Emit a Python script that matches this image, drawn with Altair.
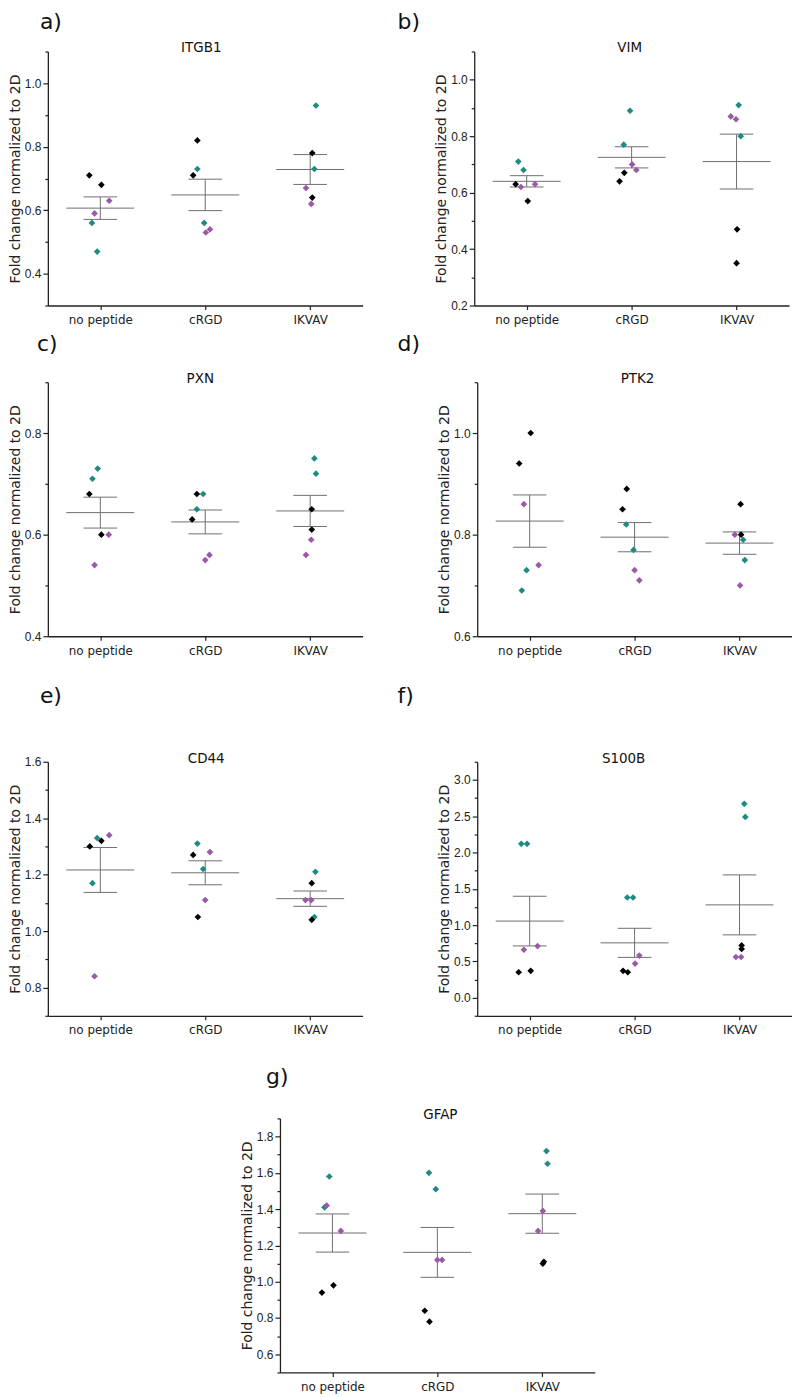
import altair as alt
import pandas as pd

CATEGORIES = ["no peptide", "cRGD", "IKVAV"]
GROUP_DOMAIN = ["t", "k", "p"]
GROUP_RANGE = ["#1e8b82", "#000000", "#9a5aa6"]
Y_TITLE = "Fold change normalized to 2D"

# ---- data: per gene, per category (no peptide, cRGD, IKVAV) ----
# values, replicate group (t = teal, k = black, p = purple), horizontal jitter (fraction of category step)
ITGB1_values = [[0.47, 0.56, 0.71, 0.68, 0.63, 0.59],
                [0.73, 0.56, 0.82, 0.71, 0.53, 0.54],
                [0.93, 0.73, 0.78, 0.64, 0.67, 0.62]]
ITGB1_groups = [["t", "t", "k", "k", "p", "p"],
                ["t", "t", "k", "k", "p", "p"],
                ["t", "t", "k", "k", "p", "p"]]
ITGB1_jitter = [[-0.03, -0.08, -0.105, 0.01, 0.085, -0.055],
                [-0.075, -0.01, -0.075, -0.115, 0.005, 0.045],
                [0.055, 0.04, 0.02, 0.02, -0.04, 0.01]]

VIM_values = [[0.71, 0.68, 0.63, 0.57, 0.62, 0.63],
              [0.89, 0.77, 0.67, 0.64, 0.70, 0.68],
              [0.91, 0.80, 0.47, 0.35, 0.87, 0.86]]
VIM_groups = ITGB1_groups
VIM_jitter = [[-0.08, -0.03, -0.105, 0.01, -0.055, 0.08],
              [-0.015, -0.075, -0.07, -0.115, 0.005, 0.045],
              [0.02, 0.04, 0.005, 0.0, -0.055, -0.005]]

PXN_values = [[0.73, 0.71, 0.68, 0.60, 0.60, 0.54],
              [0.68, 0.65, 0.68, 0.63, 0.56, 0.55],
              [0.75, 0.72, 0.65, 0.61, 0.59, 0.56]]
PXN_groups = ITGB1_groups
PXN_jitter = [[-0.025, -0.075, -0.105, 0.01, 0.08, -0.055],
              [-0.02, -0.08, -0.08, -0.125, 0.04, 0.0],
              [0.04, 0.055, 0.015, 0.015, 0.01, -0.04]]

PTK2_values = [[0.73, 0.69, 1.00, 0.94, 0.86, 0.74],
               [0.82, 0.77, 0.89, 0.85, 0.73, 0.71],
               [0.79, 0.75, 0.86, 0.80, 0.80, 0.70]]
PTK2_groups = ITGB1_groups
PTK2_jitter = [[-0.03, -0.075, 0.01, -0.1, -0.055, 0.085],
               [-0.08, -0.01, -0.075, -0.115, 0.0, 0.045],
               [0.035, 0.05, 0.01, 0.015, -0.045, 0.005]]

CD44_values = [[1.33, 1.17, 1.32, 1.30, 1.34, 0.84],
               [1.31, 1.22, 1.27, 1.05, 1.28, 1.11],
               [1.21, 1.05, 1.17, 1.04, 1.11, 1.11]]
CD44_groups = ITGB1_groups
CD44_jitter = [[-0.03, -0.075, 0.01, -0.1, 0.085, -0.055],
               [-0.075, -0.02, -0.115, -0.07, 0.045, 0.0],
               [0.05, 0.04, 0.015, 0.015, -0.045, 0.01]]

S100B_values = [[2.12, 2.12, 0.37, 0.35, 0.71, 0.66],
                [1.38, 1.38, 0.37, 0.35, 0.58, 0.47],
                [2.67, 2.49, 0.72, 0.67, 0.56, 0.56]]
S100B_groups = ITGB1_groups
S100B_jitter = [[-0.08, -0.025, 0.01, -0.105, 0.075, -0.055],
                [-0.07, -0.015, -0.11, -0.065, 0.045, 0.005],
                [0.045, 0.055, 0.02, 0.02, -0.035, 0.015]]

GFAP_values = [[1.58, 1.41, 0.98, 0.94, 1.42, 1.28],
               [1.60, 1.51, 0.84, 0.78, 1.12, 1.12],
               [1.72, 1.65, 1.11, 1.10, 1.39, 1.28]]
GFAP_groups = ITGB1_groups
GFAP_jitter = [[-0.03, -0.075, 0.01, -0.1, -0.055, 0.08],
               [-0.08, -0.015, -0.12, -0.075, 0.0, 0.045],
               [0.04, 0.05, 0.015, 0.005, 0.005, -0.04]]

W, H = 316, 255
GRAY = "#6f6f6f"
AX = "#222222"


def build_panel(gene, letter, values, groups, jitter, ydom, majors, minors,
                letter_dx, letter_dy, title_dx):
    rows = []
    for ci in range(3):
        for v, g, j in zip(values[ci], groups[ci], jitter[ci]):
            rows.append({"ci": ci, "xpos": ci + j, "value": v, "grp": g})
    df = pd.DataFrame(rows)

    ticks = sorted(set(round(t, 3) for t in majors + minors))
    major_js = "[" + ",".join(repr(round(m, 3)) for m in majors) + "]"
    is_major = f"indexof({major_js}, datum.value) >= 0"

    xscale = alt.Scale(domain=[-0.5, 2.5], nice=False, zero=False)
    yscale = alt.Scale(domain=ydom, nice=False, zero=False)
    xaxis = alt.Axis(values=[0, 1, 2], title=None, grid=False,
                     labelExpr="['no peptide','cRGD','IKVAV'][datum.value]",
                     labelFlush=False)
    yaxis = alt.Axis(values=ticks, title=Y_TITLE, grid=False, format=".1f",
                     labelExpr=f"{is_major} ? datum.label : ''",
                     tickSize={"condition": {"test": is_major, "value": 5}, "value": 3},
                     labelFlush=False)

    agg = (alt.Chart(df)
           .transform_aggregate(mean="mean(value)", sem="stderr(value)", groupby=["ci"])
           .transform_calculate(lo="datum.mean - datum.sem",
                                hi="datum.mean + datum.sem",
                                mx1="datum.ci - 0.324", mx2="datum.ci + 0.324",
                                cx1="datum.ci - 0.16", cx2="datum.ci + 0.16"))
    rule = dict(color=GRAY, strokeWidth=1)
    mean_line = agg.mark_rule(**rule).encode(
        x=alt.X("mx1:Q", scale=xscale, axis=xaxis), x2="mx2:Q",
        y=alt.Y("mean:Q", scale=yscale, axis=yaxis))
    hi_cap = agg.mark_rule(**rule).encode(
        x=alt.X("cx1:Q", scale=xscale, axis=xaxis), x2="cx2:Q",
        y=alt.Y("hi:Q", scale=yscale, axis=yaxis))
    lo_cap = agg.mark_rule(**rule).encode(
        x=alt.X("cx1:Q", scale=xscale, axis=xaxis), x2="cx2:Q",
        y=alt.Y("lo:Q", scale=yscale, axis=yaxis))
    vert = agg.mark_rule(**rule).encode(
        x=alt.X("ci:Q", scale=xscale, axis=xaxis),
        y=alt.Y("lo:Q", scale=yscale, axis=yaxis), y2="hi:Q")

    points = alt.Chart(df).mark_point(shape="diamond", filled=True, size=45, opacity=1).encode(
        x=alt.X("xpos:Q", scale=xscale, axis=xaxis),
        y=alt.Y("value:Q", scale=yscale, axis=yaxis),
        color=alt.Color("grp:N", scale=alt.Scale(domain=GROUP_DOMAIN, range=GROUP_RANGE),
                        legend=None),
    )

    one = pd.DataFrame({"k": [0]})
    gene_text = alt.Chart(one).mark_text(
        text=gene, font="DejaVu Sans", fontSize=13.5, align="center",
        baseline="alphabetic", color="#111").encode(
        x=alt.value(W / 2 + title_dx), y=alt.value(1))
    letter_text = alt.Chart(one).mark_text(
        text=letter, font="DejaVu Sans", fontSize=22, align="left",
        baseline="alphabetic", color="#111").encode(
        x=alt.value(letter_dx), y=alt.value(letter_dy))

    return alt.layer(mean_line, hi_cap, lo_cap, vert, points, gene_text, letter_text).properties(
        width=W, height=H)


def steps(a, b, s):
    n = int(round((b - a) / s))
    return [round(a + i * s, 3) for i in range(n + 1)]


pa = build_panel("ITGB1", "a)", ITGB1_values, ITGB1_groups, ITGB1_jitter,
                 [0.3, 1.1], steps(0.4, 1.0, 0.2), steps(0.3, 1.1, 0.2), -8, -23, -4)
pb = build_panel("VIM", "b)", VIM_values, VIM_groups, VIM_jitter,
                 [0.2, 1.1], steps(0.2, 1.0, 0.2), steps(0.3, 0.9, 0.2) + [1.1], -77, -23, -2)
pc = build_panel("PXN", "c)", PXN_values, PXN_groups, PXN_jitter,
                 [0.4, 0.9], steps(0.4, 0.8, 0.2), steps(0.5, 0.9, 0.2), -11, -31, -5)
pd_ = build_panel("PTK2", "d)", PTK2_values, PTK2_groups, PTK2_jitter,
                  [0.6, 1.1], steps(0.6, 1.0, 0.2), steps(0.7, 1.1, 0.2), -80, -31, 3)
pe = build_panel("CD44", "e)", CD44_values, CD44_groups, CD44_jitter,
                 [0.7, 1.6], steps(0.8, 1.6, 0.2), steps(0.7, 1.5, 0.2), -8, -59, 1)
pf = build_panel("S100B", "f)", S100B_values, S100B_groups, S100B_jitter,
                 [-0.25, 3.25], steps(0.0, 3.0, 0.5), steps(-0.25, 3.25, 0.5), -80, -59, -11)
pg = build_panel("GFAP", "g)", GFAP_values, GFAP_groups, GFAP_jitter,
                 [0.5, 1.9], steps(0.6, 1.8, 0.2), steps(0.5, 1.9, 0.2), -14, -35, 3)

spacer = alt.Chart(pd.DataFrame({"s": [0]})).mark_point(opacity=0).properties(width=161, height=10)

HS = 35
row1 = alt.hconcat(pa, pb, spacing=HS)
row2 = alt.hconcat(pc, pd_, spacing=HS)
row3 = alt.hconcat(pe, pf, spacing=HS)
row4 = alt.hconcat(spacer, pg, spacing=32)

chart = alt.vconcat(
    row1,
    alt.vconcat(row2, alt.vconcat(row3, row4, spacing=30), spacing=29),
    spacing=8,
).properties(padding=0).configure_view(stroke=None).configure_axis(
    domainColor=AX, domainWidth=1.3, tickColor=AX, tickWidth=1.2,
    labelFont="Liberation Sans", labelFontSize=12, labelColor="#222",
    labelPadding=2, titleFont="DejaVu Sans", titleFontSize=14,
    titleFontWeight="normal", titleColor="#222", titlePadding=2, grid=False,
).configure_axisX(labelFont="DejaVu Sans", labelFontSize=12, labelPadding=5, tickSize=4)

chart.save("out.html", embed_options={"renderer": "svg", "actions": False})
